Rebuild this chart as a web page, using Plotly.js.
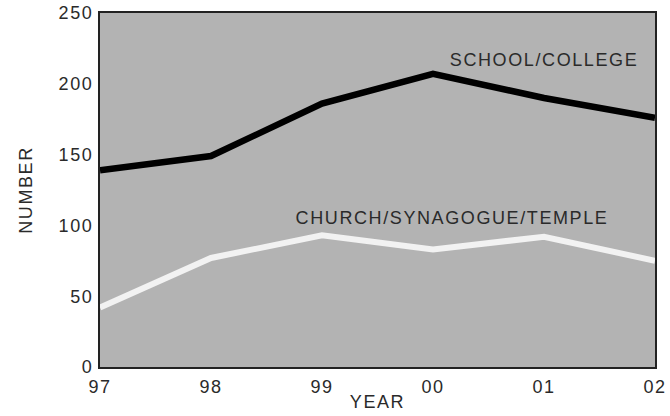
<!DOCTYPE html>
<html>
<head>
<meta charset="utf-8">
<script src="https://cdn.plot.ly/plotly-3.0.1.min.js"></script>
<style>
html,body{margin:0;padding:0;background:#fff;}
#chart{width:670px;height:416px;}
#chart svg text{letter-spacing:1.6px;}
</style>
</head>
<body>
<div id="chart"></div>
<script>
const years = ["97", "98", "99", "00", "01", "02"];
const school = [139, 149, 186, 207, 190, 176];
const church = [42, 77, 93, 83, 92, 75];
const yTicks = [0, 50, 100, 150, 200, 250];

const xIdx = years.map((_, i) => i);
const font = {family: "Liberation Sans, Arial, sans-serif", size: 18, color: "#2a2a2a"};

const traces = [
  {x: xIdx, y: school, mode: "lines", line: {color: "#000", width: 6.5}, hoverinfo: "skip"},
  {x: xIdx, y: church, mode: "lines", line: {color: "#f2f2f2", width: 6}, hoverinfo: "skip"}
];

const layout = {
  width: 670, height: 416,
  margin: {l: 100, r: 15, t: 13, b: 49},
  paper_bgcolor: "#fff",
  plot_bgcolor: "#b3b3b3",
  showlegend: false,
  font: font,
  xaxis: {
    range: [0, years.length - 1],
    tickvals: xIdx, ticktext: years,
    showgrid: false, zeroline: false,
    showline: true, linecolor: "#222", linewidth: 2, mirror: true,
    ticks: "outside", ticklen: 2, tickcolor: "rgba(0,0,0,0)",
    tickfont: font,
    title: {text: "YEAR", font: font, standoff: 0}
  },
  yaxis: {
    range: [0, 250],
    tickvals: yTicks,
    showgrid: false, zeroline: false,
    showline: true, linecolor: "#222", linewidth: 2, mirror: true,
    ticks: "outside", ticklen: 1, tickcolor: "rgba(0,0,0,0)",
    tickfont: font,
    title: {text: "NUMBER", font: font, standoff: 26}
  },
  annotations: [
    {x: 4.0, y: 217, xref: "x", yref: "y", text: "SCHOOL/COLLEGE", showarrow: false, font: font, xanchor: "center"},
    {x: 3.17, y: 105, xref: "x", yref: "y", text: "CHURCH/SYNAGOGUE/TEMPLE", showarrow: false, font: font, xanchor: "center"}
  ]
};

Plotly.newPlot("chart", traces, layout, {displayModeBar: false, staticPlot: true});
</script>
</body>
</html>
